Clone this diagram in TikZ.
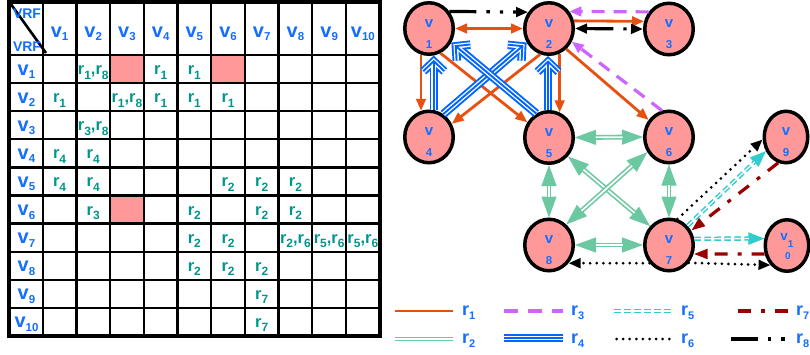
\documentclass[tikz,border=0pt]{standalone}
\usepackage{fontspec}
\setmainfont{Liberation Sans}
\usetikzlibrary{arrows.meta,shapes.geometric}

\definecolor{rone}{RGB}{232,80,16}
\definecolor{rtwo}{RGB}{108,200,160}
\definecolor{rthree}{RGB}{204,102,255}
\definecolor{rfour}{RGB}{0,102,255}
\definecolor{rfive}{RGB}{51,204,204}
\definecolor{rseven}{RGB}{153,0,0}
\definecolor{labelblue}{RGB}{20,110,255}
\definecolor{cellteal}{RGB}{0,150,140}
\definecolor{nodepink}{RGB}{255,153,153}

% letter with a lowered index: main size, index size, drop, letter, index
\newcommand\lbl[5]{{\fontsize{#1}{#1}\selectfont #4}\raisebox{-#3}{\fontsize{#2}{#2}\selectfont #5}}
\newcommand\hv[1]{\lbl{20pt}{11.5pt}{3.5pt}{v}{#1}}
\newcommand\tr[1]{\lbl{16.5pt}{12pt}{4.5pt}{r}{#1}}
\newcommand\gr[1]{\lbl{18pt}{11pt}{4.3pt}{r}{#1}}

\tikzset{
  gridline/.style={line width=2.3pt, black},
  hdtxt/.style={anchor=base, inner sep=0pt, text=labelblue, font=\bfseries},
  vrftxt/.style={anchor=base, inner sep=0pt, text=labelblue, font=\bfseries\fontsize{14pt}{14pt}\selectfont},
  tabtxt/.style={anchor=base, inner sep=0pt, text=cellteal, font=\bfseries\fontsize{16.5pt}{16.5pt}\selectfont},
  legtxt/.style={anchor=base west, inner sep=0pt, text=labelblue, font=\bfseries},
  vnode/.style={ellipse, draw=black, line width=3.5pt, fill=nodepink, minimum width=48.5pt, minimum height=51.5pt, inner sep=0pt},
  vnodesm/.style={vnode, minimum width=43.5pt},
  vtxt/.style={anchor=base, inner sep=0pt, text=labelblue, font=\bfseries\fontsize{15pt}{15pt}\selectfont},
  ntxt/.style={anchor=base, inner sep=0pt, text=labelblue, font=\bfseries\fontsize{11.5pt}{11.5pt}\selectfont},
  endtip/.style={-{Triangle[length=12pt,width=9.5pt]}},
  bothtips/.style={{Triangle[length=12pt,width=9.5pt]}-{Triangle[length=12pt,width=9.5pt]}},
  eone/.style={draw=rone, line width=2.8pt},
  % double green line: plain core carries the tips, the double stroke is laid over it
  etwo/.style={draw=rtwo, double=white, double distance=1.7pt, line width=1.6pt},
  etwoarrow/.style={draw=rtwo, line width=1pt,
    {Triangle[length=21pt,width=15pt]}-{Triangle[length=21pt,width=15pt]},
    postaction={draw=rtwo, double=white, double distance=1.7pt, line width=1.6pt, -,
      shorten <=20.5pt, shorten >=20.5pt}},
  ethree/.style={draw=rthree, line width=3.2pt, dash pattern=on 13pt off 9pt},
  efourline/.style={draw=rfour, line width=1.9pt,
    preaction={draw=rfour, line width=8.5pt},
    preaction={draw=white, line width=4.6pt}},
  efour/.style={draw=rfour, line width=1.9pt, -{Straight Barb[length=10pt,width=21pt,sep=4.3pt]},
    preaction={draw=rfour, line width=8.5pt, -{Straight Barb[length=10pt,width=21pt]}},
    preaction={draw=white, line width=4.6pt, -{Straight Barb[length=10pt,width=21pt,sep=2.6pt]}}},
  efive/.style={draw=rfive, double=white, double distance=1.3pt, line width=1.5pt, dash pattern=on 6.5pt off 3.5pt},
  efivearrow/.style={draw=rfive, line width=1pt, dash pattern=on 6.5pt off 3.5pt,
    -{Triangle[length=16pt,width=12.5pt]},
    postaction={draw=rfive, double=white, double distance=1.3pt, line width=1.5pt, -,
      dash pattern=on 6.5pt off 3.5pt, shorten >=15.5pt}},
  redtip/.style={-{Triangle[length=14pt,width=9.5pt]}},
  esix/.style={draw=black, line width=3pt, line cap=round, dash pattern=on 0pt off 6.6pt},
  eseven/.style={draw=rseven, line width=3.2pt, dash pattern=on 13pt off 10pt on 4pt off 10pt},
  eeight/.style={draw=black, line width=3.2pt, dash pattern=on 27pt off 10pt on 3.4pt off 10pt on 3.4pt off 10pt},
}

\begin{document}
\begin{tikzpicture}[x=1pt, y=-1pt]
\useasboundingbox (0,0) rectangle (810,354);
\fill[white] (0,0) rectangle (810,354);

% ---------- table ----------
\fill[nodepink] ({9+33.7*3},55) rectangle ({9+33.7*4},83.1);
\fill[nodepink] ({9+33.7*6},55) rectangle ({9+33.7*7},83.1);
\fill[nodepink] ({9+33.7*3},{55+28.1*5}) rectangle ({9+33.7*4},{55+28.1*6});
\foreach \i in {1,...,10} \draw[gridline] ({9+33.7*\i},1.5) -- ({9+33.7*\i},336);
\draw[gridline] (9,55) -- (379.7,55);
\foreach \k in {1,...,9} \draw[gridline] (9,{55+28.1*\k}) -- (379.7,{55+28.1*\k});
\draw[line width=4pt] (9,1.5) rectangle (379.7,336);
\draw[line width=2.6pt] (9,1.5) -- (46,53);

\node[vrftxt] (vrfA) at (27,18.3) {VRF};
\node[vrftxt] (vrfB) at (27,51.7) {VRF};
\foreach \c in {1,...,10} \node[hdtxt] (col\c) at ({9+33.7*(\c+0.5)},37) {\hv{\c}};
\foreach \r in {1,...,10} \node[hdtxt] (row\r) at (26.5,{46.9+28.1*\r}) {\hv{\r}};

\newcommand\putcell[3]{\node[tabtxt] (cell-#1-#2) at ({9+33.7*(#1+0.5)},{46.4+28.1*#2}) {#3};}
\putcell{2}{1}{\tr{1},\tr{8}}
\putcell{4}{1}{\tr{1}}
\putcell{5}{1}{\tr{1}}
\putcell{1}{2}{\tr{1}}
\putcell{3}{2}{\tr{1},\tr{8}}
\putcell{4}{2}{\tr{1}}
\putcell{5}{2}{\tr{1}}
\putcell{6}{2}{\tr{1}}
\putcell{2}{3}{\tr{3},\tr{8}}
\putcell{1}{4}{\tr{4}}
\putcell{2}{4}{\tr{4}}
\putcell{1}{5}{\tr{4}}
\putcell{2}{5}{\tr{4}}
\putcell{6}{5}{\tr{2}}
\putcell{7}{5}{\tr{2}}
\putcell{8}{5}{\tr{2}}
\putcell{2}{6}{\tr{3}}
\putcell{5}{6}{\tr{2}}
\putcell{7}{6}{\tr{2}}
\putcell{8}{6}{\tr{2}}
\putcell{5}{7}{\tr{2}}
\putcell{6}{7}{\tr{2}}
\putcell{8}{7}{\tr{2},\tr{6}}
\putcell{9}{7}{\tr{5},\tr{6}}
\putcell{10}{7}{\tr{5},\tr{6}}
\putcell{5}{8}{\tr{2}}
\putcell{6}{8}{\tr{2}}
\putcell{7}{8}{\tr{2}}
\putcell{7}{9}{\tr{7}}
\putcell{7}{10}{\tr{7}}

% ---------- graph nodes ----------
\node[vnode] (v1) at (429,28.5) {};
\node[vnode] (v2) at (549,28.5) {};
\node[vnode] (v3) at (669,29) {};
\node[vnode] (v4) at (429,137) {};
\node[vnode] (v5) at (549,137.5) {};
\node[vnode] (v6) at (669,137) {};
\node[vnode] (v7) at (669,245) {};
\node[vnode] (v8) at (549,245) {};
\node[vnodesm] (v9) at (786,137) {};
\node[vnodesm] (v10) at (787,245.5) {};

\foreach \n in {1,...,9} {
  \node[vtxt] (v\n-v) at ([yshift=1.5pt]v\n.center) {v};
  \node[ntxt] (v\n-n) at ([yshift=-19.5pt]v\n.center) {\n};
}
\node[vtxt] (v10-v) at ([yshift=5.5pt]v10.center) {\lbl{13.5pt}{10pt}{7pt}{v}{1}};
\node[ntxt, font=\bfseries\fontsize{10pt}{10pt}\selectfont] (v10-n) at ([xshift=1pt,yshift=-13.5pt]v10.center) {0};

% ---------- connectors ----------
\draw[eeight,endtip] (v1.40) -- (v2.142);
\draw[eone,bothtips] (v1.east) -- (v2.west);
\draw[eone,endtip] (v2.17) -- (v3.163);
\draw[ethree,endtip] (v3.140) -- (v2.40);
\draw[eeight,bothtips] (v2.east) -- (v3.west);

\draw[eone,endtip] (v1.253) -- (v4.107);
\draw[eone,endtip] (v2.-67) -- (v5.67);
\draw[eone,endtip] (v1.-65) -- (v5.145);
\draw[eone,endtip] (v2.251) -- (v4.30);
\draw[efour] (v4.80) -- (v1.280);
\draw[efour] (v5.92) -- (v2.268);
\draw[efour] (v4.58) -- (v2.212);
\draw[efour] (v5.118) -- (v1.-32);
\draw[eone,endtip] (v2.-50) -- (v6.140);
\draw[ethree,endtip] (v6.105) -- (v2.-30);

\draw[etwoarrow] (v5.east) -- (v6.west);
\draw[etwoarrow] (v8.east) -- (v7.west);
\draw[etwoarrow] (v5.south) -- (v8.north);
\draw[etwoarrow] (v6.south) -- (v7.north);
\draw[etwoarrow] (v5.-45) -- (v7.135);
\draw[etwoarrow] (v6.-145) -- (v8.50);

\draw[esix,endtip] (v7.-137) -- (v8.-43);
\draw[esix,endtip] (v7.-42) -- (v10.-130);
\draw[esix,endtip] (v7.72) -- (v9.186);
\draw[efivearrow] (v7.46) -- (v9.215);
\draw[eseven,redtip] (v9.-107) -- (v7.33);
\draw[efivearrow] (v7.14) -- (v10.163);
\draw[eseven,redtip] (v10.-159) -- (v7.-20);

% ---------- legend ----------
\coordinate (k1a) at (395,311); \coordinate (k1b) at (453,311);
\coordinate (k2a) at (395,339); \coordinate (k2b) at (453,339);
\coordinate (k3a) at (504,311); \coordinate (k3b) at (563,311);
\coordinate (k4a) at (504,338); \coordinate (k4b) at (563,338);
\coordinate (k5a) at (614,311); \coordinate (k5b) at (671,311);
\coordinate (k6a) at (616.5,339); \coordinate (k6b) at (672,339);
\coordinate (k7a) at (738,311); \coordinate (k7b) at (790,311);
\coordinate (k8a) at (731,339); \coordinate (k8b) at (786,339);
\draw[eone] (k1a) -- (k1b);
\draw[etwo] (k2a) -- (k2b);
\draw[ethree, dash pattern=on 14pt off 10pt] (k3a) -- (k3b);
\draw[efourline] (k4a) -- (k4b);
\draw[efive] (k5a) -- (k5b);
\draw[esix] (k6a) -- (k6b);
\draw[eseven] (k7a) -- (k7b);
\draw[eeight] (k8a) -- (k8b);
\node[legtxt] (k1t) at (462,315) {\gr{1}};
\node[legtxt] (k2t) at (462,343) {\gr{2}};
\node[legtxt] (k3t) at (571,315) {\gr{3}};
\node[legtxt] (k4t) at (571,343) {\gr{4}};
\node[legtxt] (k5t) at (681,315) {\gr{5}};
\node[legtxt] (k6t) at (681,343) {\gr{6}};
\node[legtxt] (k7t) at (796,315) {\gr{7}};
\node[legtxt] (k8t) at (796,343) {\gr{8}};
\end{tikzpicture}
\end{document}
